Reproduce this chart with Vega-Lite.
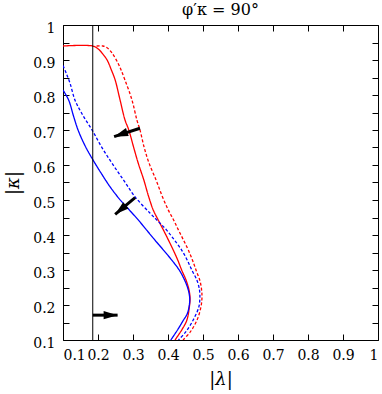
{
  "$schema": "https://vega.github.io/schema/vega-lite/v6.json",
  "width": 315,
  "height": 315,
  "autosize": "none",
  "padding": {"left": 63, "top": 25, "right": 4, "bottom": 54},
  "background": "white",
  "config": {
    "view": {"stroke": "black", "strokeWidth": 1},
    "font": "DejaVu Serif",
    "axis": {"domain": false, "grid": false, "tickColor": "black", "labelColor": "black", "titleColor": "black", "tickSize": -6, "labelFont": "DejaVu Serif", "titleFont": "DejaVu Serif", "titleFontWeight": "normal"},
    "title": {"font": "DejaVu Serif"}
  },
  "title": {"text": "φ′κ = 90°", "fontSize": 16, "fontWeight": "normal", "offset": 3, "color": "black"},
  "datasets": {
    "curves": [
      {"set": "red", "kind": "solid", "i": 1, "lambda": 0.1, "kappa": 0.94},
      {"set": "red", "kind": "solid", "i": 2, "lambda": 0.185, "kappa": 0.94},
      {"set": "red", "kind": "solid", "i": 3, "lambda": 0.2, "kappa": 0.932},
      {"set": "red", "kind": "solid", "i": 4, "lambda": 0.213, "kappa": 0.918},
      {"set": "red", "kind": "solid", "i": 5, "lambda": 0.226, "kappa": 0.9},
      {"set": "red", "kind": "solid", "i": 6, "lambda": 0.238, "kappa": 0.872},
      {"set": "red", "kind": "solid", "i": 7, "lambda": 0.249, "kappa": 0.843},
      {"set": "red", "kind": "solid", "i": 8, "lambda": 0.263, "kappa": 0.786},
      {"set": "red", "kind": "solid", "i": 9, "lambda": 0.277, "kappa": 0.729},
      {"set": "red", "kind": "solid", "i": 10, "lambda": 0.288, "kappa": 0.7},
      {"set": "red", "kind": "solid", "i": 11, "lambda": 0.302, "kappa": 0.65},
      {"set": "red", "kind": "solid", "i": 12, "lambda": 0.315, "kappa": 0.605},
      {"set": "red", "kind": "solid", "i": 13, "lambda": 0.331, "kappa": 0.557},
      {"set": "red", "kind": "solid", "i": 14, "lambda": 0.344, "kappa": 0.512},
      {"set": "red", "kind": "solid", "i": 15, "lambda": 0.358, "kappa": 0.471},
      {"set": "red", "kind": "solid", "i": 16, "lambda": 0.372, "kappa": 0.443},
      {"set": "red", "kind": "solid", "i": 17, "lambda": 0.387, "kappa": 0.414},
      {"set": "red", "kind": "solid", "i": 18, "lambda": 0.401, "kappa": 0.386},
      {"set": "red", "kind": "solid", "i": 19, "lambda": 0.415, "kappa": 0.357},
      {"set": "red", "kind": "solid", "i": 20, "lambda": 0.428, "kappa": 0.328},
      {"set": "red", "kind": "solid", "i": 21, "lambda": 0.439, "kappa": 0.3},
      {"set": "red", "kind": "solid", "i": 22, "lambda": 0.452, "kappa": 0.27},
      {"set": "red", "kind": "solid", "i": 23, "lambda": 0.46, "kappa": 0.243},
      {"set": "red", "kind": "solid", "i": 24, "lambda": 0.463, "kappa": 0.22},
      {"set": "red", "kind": "solid", "i": 25, "lambda": 0.461, "kappa": 0.194},
      {"set": "red", "kind": "solid", "i": 26, "lambda": 0.454, "kappa": 0.157},
      {"set": "red", "kind": "solid", "i": 27, "lambda": 0.44, "kappa": 0.13},
      {"set": "red", "kind": "solid", "i": 28, "lambda": 0.42, "kappa": 0.1},

      {"set": "red", "kind": "dotted", "i": 1, "lambda": 0.196, "kappa": 0.94},
      {"set": "red", "kind": "dotted", "i": 2, "lambda": 0.214, "kappa": 0.94},
      {"set": "red", "kind": "dotted", "i": 3, "lambda": 0.226, "kappa": 0.935},
      {"set": "red", "kind": "dotted", "i": 4, "lambda": 0.24, "kappa": 0.92},
      {"set": "red", "kind": "dotted", "i": 5, "lambda": 0.26, "kappa": 0.885},
      {"set": "red", "kind": "dotted", "i": 6, "lambda": 0.277, "kappa": 0.843},
      {"set": "red", "kind": "dotted", "i": 7, "lambda": 0.297, "kappa": 0.786},
      {"set": "red", "kind": "dotted", "i": 8, "lambda": 0.311, "kappa": 0.729},
      {"set": "red", "kind": "dotted", "i": 9, "lambda": 0.32, "kappa": 0.7},
      {"set": "red", "kind": "dotted", "i": 10, "lambda": 0.332, "kappa": 0.65},
      {"set": "red", "kind": "dotted", "i": 11, "lambda": 0.346, "kappa": 0.605},
      {"set": "red", "kind": "dotted", "i": 12, "lambda": 0.366, "kappa": 0.557},
      {"set": "red", "kind": "dotted", "i": 13, "lambda": 0.383, "kappa": 0.512},
      {"set": "red", "kind": "dotted", "i": 14, "lambda": 0.401, "kappa": 0.471},
      {"set": "red", "kind": "dotted", "i": 15, "lambda": 0.416, "kappa": 0.443},
      {"set": "red", "kind": "dotted", "i": 16, "lambda": 0.43, "kappa": 0.414},
      {"set": "red", "kind": "dotted", "i": 17, "lambda": 0.444, "kappa": 0.386},
      {"set": "red", "kind": "dotted", "i": 18, "lambda": 0.458, "kappa": 0.357},
      {"set": "red", "kind": "dotted", "i": 19, "lambda": 0.47, "kappa": 0.328},
      {"set": "red", "kind": "dotted", "i": 20, "lambda": 0.48, "kappa": 0.3},
      {"set": "red", "kind": "dotted", "i": 21, "lambda": 0.491, "kappa": 0.27},
      {"set": "red", "kind": "dotted", "i": 22, "lambda": 0.496, "kappa": 0.243},
      {"set": "red", "kind": "dotted", "i": 23, "lambda": 0.497, "kappa": 0.22},
      {"set": "red", "kind": "dotted", "i": 24, "lambda": 0.494, "kappa": 0.194},
      {"set": "red", "kind": "dotted", "i": 25, "lambda": 0.483, "kappa": 0.157},
      {"set": "red", "kind": "dotted", "i": 26, "lambda": 0.465, "kappa": 0.125},
      {"set": "red", "kind": "dotted", "i": 27, "lambda": 0.443, "kappa": 0.1},

      {"set": "blue", "kind": "solid", "i": 1, "lambda": 0.1, "kappa": 0.814},
      {"set": "blue", "kind": "solid", "i": 2, "lambda": 0.116, "kappa": 0.786},
      {"set": "blue", "kind": "solid", "i": 3, "lambda": 0.13, "kappa": 0.74},
      {"set": "blue", "kind": "solid", "i": 4, "lambda": 0.143, "kappa": 0.7},
      {"set": "blue", "kind": "solid", "i": 5, "lambda": 0.163, "kappa": 0.655},
      {"set": "blue", "kind": "solid", "i": 6, "lambda": 0.186, "kappa": 0.614},
      {"set": "blue", "kind": "solid", "i": 7, "lambda": 0.21, "kappa": 0.575},
      {"set": "blue", "kind": "solid", "i": 8, "lambda": 0.235, "kappa": 0.537},
      {"set": "blue", "kind": "solid", "i": 9, "lambda": 0.262, "kappa": 0.502},
      {"set": "blue", "kind": "solid", "i": 10, "lambda": 0.29, "kappa": 0.471},
      {"set": "blue", "kind": "solid", "i": 11, "lambda": 0.315, "kappa": 0.443},
      {"set": "blue", "kind": "solid", "i": 12, "lambda": 0.339, "kappa": 0.414},
      {"set": "blue", "kind": "solid", "i": 13, "lambda": 0.363, "kappa": 0.385},
      {"set": "blue", "kind": "solid", "i": 14, "lambda": 0.387, "kappa": 0.357},
      {"set": "blue", "kind": "solid", "i": 15, "lambda": 0.411, "kappa": 0.328},
      {"set": "blue", "kind": "solid", "i": 16, "lambda": 0.432, "kappa": 0.3},
      {"set": "blue", "kind": "solid", "i": 17, "lambda": 0.448, "kappa": 0.27},
      {"set": "blue", "kind": "solid", "i": 18, "lambda": 0.458, "kappa": 0.243},
      {"set": "blue", "kind": "solid", "i": 19, "lambda": 0.462, "kappa": 0.22},
      {"set": "blue", "kind": "solid", "i": 20, "lambda": 0.461, "kappa": 0.2},
      {"set": "blue", "kind": "solid", "i": 21, "lambda": 0.455, "kappa": 0.175},
      {"set": "blue", "kind": "solid", "i": 22, "lambda": 0.443, "kappa": 0.155},
      {"set": "blue", "kind": "solid", "i": 23, "lambda": 0.428, "kappa": 0.13},
      {"set": "blue", "kind": "solid", "i": 24, "lambda": 0.408, "kappa": 0.1},

      {"set": "blue", "kind": "dotted", "i": 1, "lambda": 0.1, "kappa": 0.884},
      {"set": "blue", "kind": "dotted", "i": 2, "lambda": 0.11, "kappa": 0.86},
      {"set": "blue", "kind": "dotted", "i": 3, "lambda": 0.12, "kappa": 0.834},
      {"set": "blue", "kind": "dotted", "i": 4, "lambda": 0.134, "kappa": 0.786},
      {"set": "blue", "kind": "dotted", "i": 5, "lambda": 0.155, "kappa": 0.745},
      {"set": "blue", "kind": "dotted", "i": 6, "lambda": 0.183, "kappa": 0.7},
      {"set": "blue", "kind": "dotted", "i": 7, "lambda": 0.21, "kappa": 0.652},
      {"set": "blue", "kind": "dotted", "i": 8, "lambda": 0.24, "kappa": 0.605},
      {"set": "blue", "kind": "dotted", "i": 9, "lambda": 0.273, "kappa": 0.557},
      {"set": "blue", "kind": "dotted", "i": 10, "lambda": 0.306, "kappa": 0.509},
      {"set": "blue", "kind": "dotted", "i": 11, "lambda": 0.349, "kappa": 0.462},
      {"set": "blue", "kind": "dotted", "i": 12, "lambda": 0.373, "kappa": 0.438},
      {"set": "blue", "kind": "dotted", "i": 13, "lambda": 0.396, "kappa": 0.414},
      {"set": "blue", "kind": "dotted", "i": 14, "lambda": 0.418, "kappa": 0.386},
      {"set": "blue", "kind": "dotted", "i": 15, "lambda": 0.439, "kappa": 0.357},
      {"set": "blue", "kind": "dotted", "i": 16, "lambda": 0.455, "kappa": 0.328},
      {"set": "blue", "kind": "dotted", "i": 17, "lambda": 0.468, "kappa": 0.3},
      {"set": "blue", "kind": "dotted", "i": 18, "lambda": 0.483, "kappa": 0.27},
      {"set": "blue", "kind": "dotted", "i": 19, "lambda": 0.49, "kappa": 0.243},
      {"set": "blue", "kind": "dotted", "i": 20, "lambda": 0.491, "kappa": 0.22},
      {"set": "blue", "kind": "dotted", "i": 21, "lambda": 0.488, "kappa": 0.194},
      {"set": "blue", "kind": "dotted", "i": 22, "lambda": 0.472, "kappa": 0.157},
      {"set": "blue", "kind": "dotted", "i": 23, "lambda": 0.452, "kappa": 0.125},
      {"set": "blue", "kind": "dotted", "i": 24, "lambda": 0.43, "kappa": 0.1}
    ],
    "vline": [{"lambda": 0.185, "k0": 0.1, "k1": 1}],
    "arrows": [
      {"id": 1, "l0": 0.32, "k0": 0.705, "l1": 0.246, "k1": 0.681},
      {"id": 2, "l0": 0.306, "k0": 0.507, "l1": 0.249, "k1": 0.459},
      {"id": 3, "l0": 0.185, "k0": 0.171, "l1": 0.256, "k1": 0.171}
    ]
  },
  "layer": [
    {
      "data": {"name": "curves"},
      "mark": {"type": "line", "strokeWidth": 1.3, "clip": true, "interpolate": "catmull-rom"},
      "encoding": {
        "x": {"field": "lambda", "type": "quantitative", "scale": {"domain": [0.1, 1], "nice": false, "zero": false},
          "axis": {"orient": "bottom", "values": [0.1, 0.2, 0.3, 0.4, 0.5, 0.6, 0.7, 0.8, 0.9, 1], "format": ".1~f", "labelFontSize": 14, "labelPadding": 14, "title": "|λ|", "titleFontSize": 18, "titleFontStyle": "italic", "titlePadding": 8}},
        "y": {"field": "kappa", "type": "quantitative", "scale": {"domain": [0.1, 1], "nice": false, "zero": false},
          "axis": {"orient": "left", "values": [0.1, 0.15, 0.2, 0.25, 0.3, 0.35, 0.4, 0.45, 0.5, 0.55, 0.6, 0.65, 0.7, 0.75, 0.8, 0.85, 0.9, 0.95, 1],
            "labelExpr": "round(datum.value*100) % 10 == 0 ? format(datum.value, '.1~f') : ''", "labelFontSize": 14, "labelPadding": 14, "labelOffset": 3, "title": "|κ|", "titleFontSize": 18, "titleFontStyle": "italic", "titlePadding": 10}},
        "color": {"field": "set", "type": "nominal", "scale": {"domain": ["red", "blue"], "range": ["#ff0000", "#0000ff"]}, "legend": null},
        "strokeDash": {"field": "kind", "type": "nominal", "scale": {"domain": ["solid", "dotted"], "range": [[1, 0], [3, 2]]}, "legend": null},
        "detail": {"field": "set"},
        "order": {"field": "i", "type": "quantitative"}
      }
    },
    {
      "data": {"name": "vline"},
      "mark": {"type": "rule", "color": "black", "strokeWidth": 1},
      "encoding": {
        "x": {"field": "lambda", "type": "quantitative",
          "axis": {"orient": "top", "values": [0.1, 0.2, 0.3, 0.4, 0.5, 0.6, 0.7, 0.8, 0.9, 1], "labels": false, "title": null}},
        "y": {"field": "k0", "type": "quantitative",
          "axis": {"orient": "right", "values": [0.1, 0.15, 0.2, 0.25, 0.3, 0.35, 0.4, 0.45, 0.5, 0.55, 0.6, 0.65, 0.7, 0.75, 0.8, 0.85, 0.9, 0.95, 1], "labels": false, "title": null}},
        "y2": {"field": "k1"}
      }
    },
    {
      "data": {"name": "arrows"},
      "mark": {"type": "rule", "color": "black", "strokeWidth": 3},
      "encoding": {
        "x": {"field": "l0", "type": "quantitative", "axis": null},
        "y": {"field": "k0", "type": "quantitative", "axis": null},
        "x2": {"field": "l1"},
        "y2": {"field": "k1"}
      }
    },
    {
      "data": {"name": "arrows"},
      "transform": [{"filter": "datum.id == 1"}],
      "mark": {"type": "point", "shape": "M0,0L-2,-0.6L-2,0.6Z", "filled": true, "color": "black", "size": 196, "angle": 161, "opacity": 1},
      "encoding": {
        "x": {"field": "l1", "type": "quantitative", "axis": null},
        "y": {"field": "k1", "type": "quantitative", "axis": null}
      }
    },
    {
      "data": {"name": "arrows"},
      "transform": [{"filter": "datum.id == 2"}],
      "mark": {"type": "point", "shape": "M0,0L-2,-0.6L-2,0.6Z", "filled": true, "color": "black", "size": 196, "angle": 140, "opacity": 1},
      "encoding": {
        "x": {"field": "l1", "type": "quantitative", "axis": null},
        "y": {"field": "k1", "type": "quantitative", "axis": null}
      }
    },
    {
      "data": {"name": "arrows"},
      "transform": [{"filter": "datum.id == 3"}],
      "mark": {"type": "point", "shape": "M0,0L-2,-0.6L-2,0.6Z", "filled": true, "color": "black", "size": 196, "angle": 0, "opacity": 1},
      "encoding": {
        "x": {"field": "l1", "type": "quantitative", "axis": null},
        "y": {"field": "k1", "type": "quantitative", "axis": null}
      }
    }
  ],
  "resolve": {"axis": {"x": "independent", "y": "independent"}}
}
